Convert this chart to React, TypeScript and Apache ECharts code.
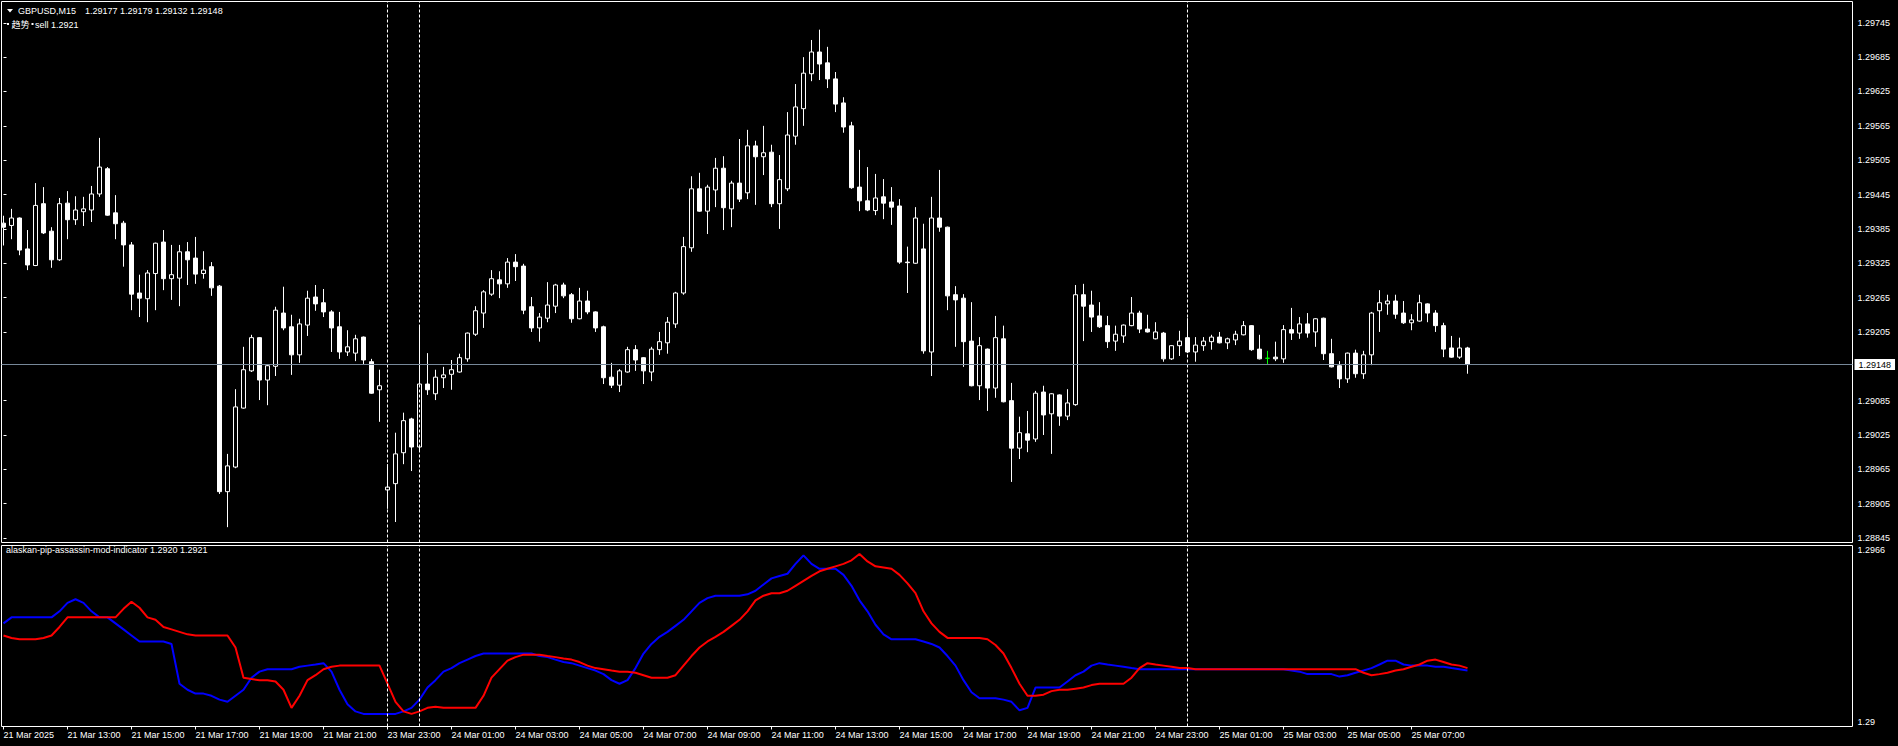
import React, { useEffect, useRef } from "react";
import * as echarts from "echarts";

// ---- price data (GBPUSD M15), one entry per candle ----
const opens = [
  1.29395,1.29391,1.29404,1.29350,1.29321,1.29429,1.29381,1.29331,1.29430,1.29401,
  1.29415,1.29418,1.29446,1.29490,1.29413,1.29395,1.29357,1.29273,1.29263,1.29307,
  1.29362,1.29298,1.29299,1.29345,1.29334,1.29307,1.29319,1.29285,1.28926,1.28969,
  1.29072,1.29137,1.29195,1.29121,1.29145,1.29238,1.29214,1.29165,1.29217,1.29266,
  1.29256,1.29240,1.29214,1.29170,1.29168,1.29196,1.29153,1.29104,1.28929,1.28940,
  1.28994,1.29053,1.29004,1.29114,1.29097,1.29125,1.29131,1.29135,1.29158,1.29201,
  1.29238,1.29271,1.29296,1.29289,1.29327,1.29320,1.29249,1.29212,1.29229,1.29250,
  1.29287,1.29270,1.29228,1.29259,1.29240,1.29214,1.29126,1.29112,1.29135,1.29174,
  1.29160,1.29135,1.29174,1.29186,1.29219,1.29273,1.29352,1.29455,1.29416,1.29453,
  1.29491,1.29420,1.29465,1.29448,1.29530,1.29511,1.29519,1.29429,1.29455,1.29547,
  1.29595,1.29656,1.29694,1.29675,1.29647,1.29605,1.29565,1.29458,1.29434,1.29417,
  1.29441,1.29432,1.29425,1.29327,1.29325,1.29350,1.29170,1.29404,1.29388,1.29270,
  1.29264,1.29189,1.29111,1.29175,1.29107,1.29193,1.29085,1.29002,1.29027,1.29018,
  1.29100,1.29062,1.29095,1.29058,1.29078,1.29270,1.29252,1.29233,1.29216,1.29189,
  1.29198,1.29216,1.29238,1.29210,1.29193,1.29203,1.29158,1.29181,1.29195,1.29170,
  1.29181,1.29188,1.29196,1.29186,1.29191,1.29200,1.29216,1.29175,1.29159,1.29161,
  1.29158,1.29209,1.29203,1.29219,1.29205,1.29229,1.29167,1.29146,1.29123,1.29168,
  1.29132,1.29165,1.29242,1.29254,1.29259,1.29238,1.29221,1.29224,1.29254,1.29238,
  1.29216,1.29177,1.29161,1.29177,
];
const highs = [
  1.29408,1.29420,1.29405,1.29383,1.29465,1.29458,1.29388,1.29439,1.29451,1.29442,
  1.29441,1.29460,1.29544,1.29493,1.29444,1.29399,1.29362,1.29305,1.29313,1.29361,
  1.29383,1.29357,1.29357,1.29362,1.29371,1.29346,1.29327,1.29287,1.28992,1.29105,
  1.29179,1.29200,1.29196,1.29149,1.29249,1.29284,1.29235,1.29228,1.29277,1.29287,
  1.29280,1.29243,1.29240,1.29208,1.29200,1.29197,1.29158,1.29139,1.28974,1.29029,
  1.29064,1.29055,1.29217,1.29168,1.29139,1.29144,1.29156,1.29167,1.29204,1.29250,
  1.29278,1.29313,1.29311,1.29334,1.29341,1.29324,1.29266,1.29238,1.29292,1.29289,
  1.29291,1.29273,1.29282,1.29277,1.29241,1.29216,1.29151,1.29140,1.29179,1.29182,
  1.29161,1.29179,1.29205,1.29231,1.29275,1.29371,1.29477,1.29483,1.29462,1.29509,
  1.29512,1.29469,1.29542,1.29558,1.29539,1.29565,1.29532,1.29514,1.29589,1.29638,
  1.29685,1.29715,1.29733,1.29703,1.29659,1.29615,1.29572,1.29523,1.29493,1.29481,
  1.29472,1.29458,1.29437,1.29354,1.29423,1.29394,1.29441,1.29488,1.29389,1.29285,
  1.29271,1.29257,1.29196,1.29176,1.29233,1.29216,1.29116,1.29057,1.29067,1.29102,
  1.29111,1.29098,1.29096,1.29105,1.29287,1.29289,1.29277,1.29257,1.29233,1.29216,
  1.29218,1.29266,1.29242,1.29235,1.29222,1.29205,1.29182,1.29207,1.29229,1.29196,
  1.29196,1.29200,1.29205,1.29195,1.29207,1.29224,1.29217,1.29200,1.29172,1.29188,
  1.29217,1.29247,1.29231,1.29238,1.29229,1.29230,1.29193,1.29154,1.29169,1.29174,
  1.29172,1.29240,1.29278,1.29270,1.29270,1.29259,1.29236,1.29270,1.29255,1.29243,
  1.29221,1.29198,1.29195,1.29179,
];
const lows = [
  1.29356,1.29367,1.29339,1.29313,1.29320,1.29376,1.29317,1.29329,1.29367,1.29392,
  1.29390,1.29397,1.29441,1.29408,1.29367,1.29319,1.29243,1.29231,1.29222,1.29243,
  1.29278,1.29261,1.29250,1.29287,1.29289,1.29298,1.29268,1.28922,1.28864,1.28967,
  1.29071,1.29135,1.29086,1.29077,1.29128,1.29208,1.29130,1.29151,1.29198,1.29242,
  1.29231,1.29170,1.29158,1.29163,1.29154,1.29149,1.29097,1.29048,1.28896,1.28873,
  1.28974,1.28962,1.28997,1.29095,1.29086,1.29107,1.29104,1.29134,1.29153,1.29198,
  1.29212,1.29268,1.29264,1.29282,1.29294,1.29236,1.29205,1.29188,1.29222,1.29238,
  1.29264,1.29221,1.29227,1.29236,1.29205,1.29114,1.29107,1.29100,1.29134,1.29137,
  1.29114,1.29119,1.29165,1.29167,1.29212,1.29270,1.29345,1.29415,1.29376,1.29423,
  1.29383,1.29388,1.29432,1.29437,1.29427,1.29479,1.29423,1.29385,1.29451,1.29532,
  1.29565,1.29643,1.29645,1.29631,1.29589,1.29553,1.29455,1.29416,1.29416,1.29409,
  1.29402,1.29392,1.29324,1.29273,1.29324,1.29167,1.29128,1.29380,1.29243,1.29179,
  1.29144,1.29110,1.29086,1.29067,1.29090,1.29082,1.28943,1.28983,1.28995,1.29013,
  1.29025,1.28992,1.29041,1.29051,1.29076,1.29189,1.29205,1.29212,1.29177,1.29172,
  1.29186,1.29215,1.29203,1.29204,1.29192,1.29153,1.29156,1.29163,1.29168,1.29153,
  1.29172,1.29174,1.29185,1.29175,1.29182,1.29199,1.29172,1.29157,1.29149,1.29154,
  1.29151,1.29191,1.29193,1.29195,1.29179,1.29156,1.29143,1.29107,1.29116,1.29125,
  1.29123,1.29147,1.29205,1.29235,1.29228,1.29219,1.29208,1.29223,1.29222,1.29205,
  1.29161,1.29160,1.29158,1.29132,
];
const closes = [
  1.29388,1.29404,1.29348,1.29322,1.29426,1.29378,1.29331,1.29429,1.29401,1.29418,
  1.29420,1.29446,1.29493,1.29409,1.29394,1.29357,1.29271,1.29264,1.29308,1.29360,
  1.29298,1.29305,1.29345,1.29331,1.29306,1.29313,1.29282,1.28926,1.28971,1.29074,
  1.29139,1.29195,1.29121,1.29146,1.29243,1.29212,1.29165,1.29219,1.29264,1.29254,
  1.29240,1.29212,1.29170,1.29179,1.29193,1.29156,1.29098,1.29111,1.28934,1.28992,
  1.29050,1.29004,1.29114,1.29104,1.29126,1.29130,1.29139,1.29160,1.29203,1.29242,
  1.29275,1.29298,1.29289,1.29327,1.29319,1.29243,1.29212,1.29231,1.29252,1.29287,
  1.29268,1.29228,1.29259,1.29240,1.29212,1.29125,1.29112,1.29137,1.29174,1.29156,
  1.29137,1.29175,1.29188,1.29222,1.29273,1.29354,1.29455,1.29416,1.29458,1.29491,
  1.29422,1.29465,1.29437,1.29530,1.29511,1.29518,1.29429,1.29471,1.29549,1.29598,
  1.29657,1.29694,1.29673,1.29647,1.29603,1.29563,1.29457,1.29434,1.29418,1.29439,
  1.29430,1.29423,1.29327,1.29326,1.29404,1.29172,1.29404,1.29388,1.29268,1.29261,
  1.29188,1.29111,1.29181,1.29107,1.29195,1.29083,1.29002,1.29029,1.29016,1.29098,
  1.29060,1.29097,1.29058,1.29081,1.29270,1.29250,1.29231,1.29214,1.29188,1.29201,
  1.29217,1.29238,1.29210,1.29205,1.29205,1.29158,1.29181,1.29189,1.29170,1.29182,
  1.29189,1.29196,1.29186,1.29193,1.29201,1.29216,1.29174,1.29158,1.29159,1.29158,
  1.29209,1.29203,1.29219,1.29203,1.29228,1.29167,1.29144,1.29123,1.29168,1.29132,
  1.29165,1.29238,1.29256,1.29259,1.29236,1.29221,1.29226,1.29256,1.29238,1.29216,
  1.29175,1.29161,1.29177,1.29148,
];

// ---- indicator buffers (alaskan-pip-assassin-mod-indicator) ----
const blueLine = [
  1.29376,1.29398,1.29398,1.29398,1.29398,1.29398,1.29398,1.29420,1.29451,1.29464,
  1.29451,1.29420,1.29398,1.29398,1.29376,1.29354,1.29332,1.29310,1.29310,1.29310,
  1.29310,1.29301,1.29156,1.29134,1.29120,1.29120,1.29112,1.29098,1.29090,1.29112,
  1.29134,1.29178,1.29200,1.29209,1.29209,1.29209,1.29209,1.29218,1.29222,1.29226,
  1.29231,1.29200,1.29134,1.29081,1.29055,1.29046,1.29046,1.29046,1.29046,1.29046,
  1.29055,1.29068,1.29098,1.29142,1.29169,1.29200,1.29213,1.29231,1.29244,1.29257,
  1.29266,1.29266,1.29266,1.29266,1.29266,1.29266,1.29266,1.29257,1.29253,1.29244,
  1.29235,1.29231,1.29222,1.29213,1.29204,1.29191,1.29169,1.29156,1.29169,1.29213,
  1.29266,1.29301,1.29327,1.29345,1.29367,1.29389,1.29420,1.29451,1.29468,1.29477,
  1.29477,1.29477,1.29477,1.29482,1.29495,1.29518,1.29540,1.29549,1.29557,1.29593,
  1.29624,1.29593,1.29575,1.29575,1.29575,1.29553,1.29513,1.29460,1.29420,1.29371,
  1.29336,1.29318,1.29318,1.29318,1.29318,1.29310,1.29301,1.29288,1.29257,1.29222,
  1.29169,1.29125,1.29103,1.29103,1.29103,1.29098,1.29090,1.29059,1.29068,1.29142,
  1.29142,1.29142,1.29142,1.29164,1.29187,1.29200,1.29222,1.29231,1.29226,1.29222,
  1.29218,1.29213,1.29209,1.29209,1.29209,1.29209,1.29209,1.29209,1.29209,1.29209,
  1.29209,1.29209,1.29209,1.29209,1.29209,1.29209,1.29209,1.29209,1.29209,1.29209,
  1.29209,1.29204,1.29200,1.29191,1.29191,1.29191,1.29191,1.29182,1.29187,1.29196,
  1.29204,1.29213,1.29226,1.29240,1.29240,1.29226,1.29222,1.29222,1.29222,1.29218,
  1.29218,1.29213,1.29209,1.29204,
];
const redLine = [
  1.29332,1.29323,1.29318,1.29318,1.29318,1.29323,1.29332,1.29363,1.29398,1.29398,
  1.29398,1.29398,1.29398,1.29398,1.29398,1.29429,1.29455,1.29433,1.29398,1.29389,
  1.29363,1.29354,1.29345,1.29336,1.29332,1.29332,1.29332,1.29332,1.29332,1.29288,
  1.29178,1.29173,1.29169,1.29169,1.29164,1.29134,1.29068,1.29112,1.29169,1.29187,
  1.29209,1.29218,1.29222,1.29222,1.29222,1.29222,1.29222,1.29222,1.29156,1.29090,
  1.29055,1.29046,1.29055,1.29068,1.29072,1.29068,1.29068,1.29068,1.29068,1.29068,
  1.29112,1.29178,1.29209,1.29240,1.29253,1.29262,1.29262,1.29262,1.29257,1.29253,
  1.29248,1.29244,1.29235,1.29222,1.29213,1.29209,1.29204,1.29200,1.29200,1.29196,
  1.29187,1.29178,1.29178,1.29178,1.29187,1.29222,1.29257,1.29288,1.29310,1.29327,
  1.29345,1.29367,1.29389,1.29420,1.29460,1.29477,1.29486,1.29486,1.29495,1.29513,
  1.29531,1.29549,1.29566,1.29575,1.29584,1.29593,1.29606,1.29629,1.29602,1.29584,
  1.29580,1.29575,1.29553,1.29522,1.29486,1.29420,1.29376,1.29345,1.29323,1.29323,
  1.29323,1.29323,1.29323,1.29318,1.29297,1.29266,1.29213,1.29156,1.29112,1.29112,
  1.29116,1.29129,1.29134,1.29134,1.29138,1.29142,1.29151,1.29156,1.29156,1.29156,
  1.29156,1.29178,1.29213,1.29231,1.29226,1.29222,1.29218,1.29213,1.29213,1.29209,
  1.29209,1.29209,1.29209,1.29209,1.29209,1.29209,1.29209,1.29209,1.29209,1.29209,
  1.29209,1.29209,1.29209,1.29209,1.29209,1.29209,1.29209,1.29209,1.29209,1.29209,
  1.29196,1.29187,1.29191,1.29196,1.29204,1.29209,1.29218,1.29226,1.29240,1.29244,
  1.29235,1.29226,1.29222,1.29213,
];

// ---- axis labels ----
const timeLabels = [
  "21 Mar 2025", "21 Mar 13:00", "21 Mar 15:00", "21 Mar 17:00", "21 Mar 19:00",
  "21 Mar 21:00", "23 Mar 23:00", "24 Mar 01:00", "24 Mar 03:00", "24 Mar 05:00",
  "24 Mar 07:00", "24 Mar 09:00", "24 Mar 11:00", "24 Mar 13:00", "24 Mar 15:00",
  "24 Mar 17:00", "24 Mar 19:00", "24 Mar 21:00", "24 Mar 23:00", "25 Mar 01:00",
  "25 Mar 03:00", "25 Mar 05:00", "25 Mar 07:00",
];
const barsPerLabel = 8;
const priceTicks = [
  1.28845, 1.28905, 1.28965, 1.29025, 1.29085, 1.29205, 1.29265,
  1.29325, 1.29385, 1.29445, 1.29505, 1.29565, 1.29625, 1.29685, 1.29745,
];
const indicatorTicks = [1.29, 1.2966];
const daySeparators = [48, 52, 148];
const symbolName = "GBPUSD,M15";
const indicatorName = "alaskan-pip-assassin-mod-indicator";
const signalLabel = "趋势";
const signalText = "sell 1.2921";

const priceMin = 1.288372;
const priceMax = 1.297822;
const xMin = -0.25;
const xMax = 231.125;

const FONT = "'Liberation Sans', Arial, sans-serif";

export default function App() {
  const ref = useRef<HTMLDivElement>(null);

  useEffect(() => {
    if (!ref.current) return;
    const chart = echarts.init(ref.current, undefined, { renderer: "svg" });
    const n = closes.length;
    const candleData = opens.map((o, i) => {
      const value = [i, o, closes[i], lows[i], highs[i]];
      if (o === closes[i]) {
        return {
          value,
          itemStyle: { color: "#00ff00", color0: "#00ff00", borderColor: "#00ff00", borderColor0: "#00ff00" },
        };
      }
      return value;
    });
    const blueData = blueLine.map((v, i) => [i, v]);
    const redData = redLine.map((v, i) => [i, v]);
    const last = n - 1;
    const lastPrice = closes[last];
    const tickIdx = timeLabels.map((_, i) => i * barsPerLabel);

    const sepLines = daySeparators.map((s) => ({
      xAxis: s,
      lineStyle: { color: "#ffffff", type: [3, 2], width: 1 },
      label: { show: false },
    }));

    const option: any = {
      animation: false,
      backgroundColor: "#000000",
      textStyle: { fontFamily: FONT },
      grid: [
        { left: 1.5, top: 1.5, width: 1851, height: 541, show: true, borderColor: "#ffffff", borderWidth: 1, backgroundColor: "#000000" },
        { left: 1.5, top: 545.5, width: 1851, height: 181, show: true, borderColor: "#ffffff", borderWidth: 1, backgroundColor: "#000000" },
      ],
      xAxis: [
        { type: "value", gridIndex: 0, min: xMin, max: xMax, show: false },
        {
          type: "value", gridIndex: 1, min: xMin, max: xMax,
          axisLine: { show: false }, splitLine: { show: false },
          axisTick: { show: true, customValues: tickIdx, length: 3, lineStyle: { color: "#ffffff" } },
          axisLabel: {
            show: true, customValues: tickIdx,
            formatter: (v: number) => timeLabels[Math.round(v / barsPerLabel)] ?? "",
            color: "#ffffff", fontSize: 9, fontFamily: FONT, align: "left", margin: 4,
          },
        },
      ],
      yAxis: [
        {
          type: "value", gridIndex: 0, position: "right", min: priceMin, max: priceMax, scale: true,
          splitLine: { show: false }, axisLine: { show: false },
          axisTick: { show: true, customValues: priceTicks, length: 3, lineStyle: { color: "#ffffff" } },
          axisLabel: {
            customValues: priceTicks, formatter: (v: number) => v.toFixed(5),
            color: "#ffffff", fontSize: 9, fontFamily: FONT, margin: 5,
          },
        },
        {
          type: "value", gridIndex: 1, position: "right", min: indicatorTicks[0], max: indicatorTicks[1], scale: true,
          splitLine: { show: false }, axisLine: { show: false }, axisTick: { show: false },
          axisLabel: {
            customValues: indicatorTicks, formatter: (v: number) => String(+v.toFixed(4)),
            color: "#ffffff", fontSize: 9, fontFamily: FONT, margin: 5,
            verticalAlignMinLabel: "bottom", verticalAlignMaxLabel: "top",
          },
        },
      ],
      series: [
        {
          type: "candlestick", xAxisIndex: 0, yAxisIndex: 0, barWidth: 4,
          data: candleData,
          itemStyle: { color: "#000000", color0: "#ffffff", borderColor: "#ffffff", borderColor0: "#ffffff", borderWidth: 1 },
          markLine: {
            symbol: ["none", "none"], silent: true, animation: false, precision: 5,
            data: [
              ...sepLines,
              {
                yAxis: lastPrice,
                lineStyle: { color: "#778899", type: "solid", width: 1 },
                label: {
                  show: true, position: "end", formatter: lastPrice.toFixed(5),
                  backgroundColor: "#ffffff", color: "#000000", padding: [1, 4, 1, 4],
                  fontSize: 9, fontFamily: FONT, distance: 2,
                },
              },
            ],
          },
        },
        {
          type: "line", xAxisIndex: 1, yAxisIndex: 1, data: blueData, showSymbol: false,
          lineStyle: { color: "#0000ff", width: 2 }, silent: true,
          markLine: { symbol: ["none", "none"], silent: true, precision: 5, data: sepLines },
        },
        {
          type: "line", xAxisIndex: 1, yAxisIndex: 1, data: redData, showSymbol: false,
          lineStyle: { color: "#ff0000", width: 2 }, silent: true,
        },
      ],
      graphic: [
        { type: "polygon", shape: { points: [[7, 9], [13, 9], [10, 12.5]] }, style: { fill: "#ffffff" } },
        { type: "text", x: 18, y: 11, style: { text: symbolName, fill: "#ffffff", font: `9px ${FONT}`, textVerticalAlign: "middle" } },
        {
          type: "text", x: 85, y: 11,
          style: {
            text: [opens[last], highs[last], lows[last], closes[last]].map((v) => v.toFixed(5)).join(" "),
            fill: "#ffffff", font: `9px ${FONT}`, textVerticalAlign: "middle",
          },
        },
        { type: "rect", shape: { x: 7, y: 23, width: 2, height: 2 }, style: { fill: "#ffffff" } },
        { type: "text", x: 11.5, y: 24.5, style: { text: signalLabel, fill: "#ffffff", font: `9px 'Noto Sans CJK SC', sans-serif`, textVerticalAlign: "middle" } },
        { type: "rect", shape: { x: 31.5, y: 23, width: 2, height: 2 }, style: { fill: "#ffffff" } },
        { type: "text", x: 35, y: 24.5, style: { text: signalText, fill: "#ffffff", font: `9px ${FONT}`, textVerticalAlign: "middle" } },
        {
          type: "text", x: 6, y: 550,
          style: {
            text: `${indicatorName} ${blueLine[last].toFixed(4)} ${redLine[last].toFixed(4)}`,
            fill: "#ffffff", font: `9px ${FONT}`, textVerticalAlign: "middle",
          },
        },
      ],
    };
    chart.setOption(option);
    return () => chart.dispose();
  }, []);

  return (
    <div
      ref={ref}
      style={{ position: "fixed", left: 0, top: 0, width: 1898, height: 746, background: "#000000" }}
    />
  );
}
